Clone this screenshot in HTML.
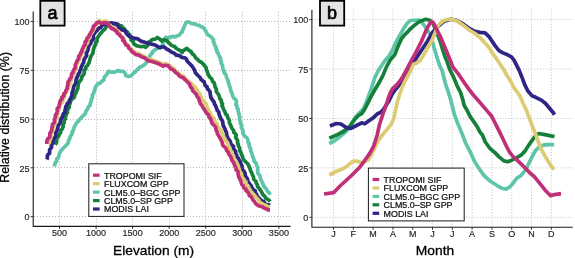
<!DOCTYPE html>
<html><head><meta charset="utf-8"><style>
html,body{margin:0;padding:0;background:#fff;}
svg{display:block;will-change:transform;}
text{font-family:"Liberation Sans", sans-serif;stroke-linejoin:round;}
.g{stroke:#b4b4b4;stroke-width:1;stroke-dasharray:1 2;fill:none;}
.g2{stroke:#c0c0c0;stroke-width:1;stroke-dasharray:0.95 1.9;fill:none;}
.c{fill:none;stroke-width:3.7;stroke-linejoin:round;stroke-linecap:butt;}
.ax{fill:none;stroke:#1a1a1a;stroke-width:1.1;}
.tk{stroke:#333;stroke-width:1;}
.xt{font-size:9.8px;fill:#262626;stroke:#262626;stroke-width:0.18px;text-anchor:middle;}
.yt{font-size:9.8px;fill:#262626;stroke:#262626;stroke-width:0.18px;text-anchor:end;}
.lg{fill:#fff;stroke:#1a1a1a;stroke-width:1;}
.lt{font-size:9.2px;fill:#111;stroke:#111;stroke-width:0.25px;}
.tb{fill:#e4e4e4;stroke:#000;stroke-width:1.8;}
.tg{font-size:18px;text-anchor:middle;fill:#000;stroke:#000;stroke-width:0.7px;}
.ti{font-size:13.4px;fill:#000;stroke:#000;stroke-width:0.3px;}
</style></head><body>
<svg width="575" height="258" viewBox="0 0 575 258">
<line x1="59.50" y1="11.60" x2="59.50" y2="226.40" class="g"/>
<line x1="96.50" y1="11.60" x2="96.50" y2="226.40" class="g"/>
<line x1="132.50" y1="11.60" x2="132.50" y2="226.40" class="g"/>
<line x1="169.50" y1="11.60" x2="169.50" y2="226.40" class="g"/>
<line x1="205.50" y1="11.60" x2="205.50" y2="226.40" class="g"/>
<line x1="242.50" y1="11.60" x2="242.50" y2="226.40" class="g"/>
<line x1="278.50" y1="11.60" x2="278.50" y2="226.40" class="g"/>
<line x1="34.00" y1="21.50" x2="290.60" y2="21.50" class="g"/>
<line x1="34.00" y1="70.50" x2="290.60" y2="70.50" class="g"/>
<line x1="34.00" y1="119.50" x2="290.60" y2="119.50" class="g"/>
<line x1="34.00" y1="167.50" x2="290.60" y2="167.50" class="g"/>
<line x1="34.00" y1="216.50" x2="290.60" y2="216.50" class="g"/>
<polyline points="54.4,166.4 54.7,164.4 55.4,162.6 56.7,161.0 56.7,158.9 58.4,157.5 59.0,155.6 59.4,153.6 60.2,151.8 61.4,150.2 62.6,149.1 63.7,147.8 64.8,146.6 66.0,145.5 67.3,144.1 68.3,142.4 68.6,140.3 69.9,138.5 70.1,136.7 71.1,135.2 72.2,133.9 72.1,131.7 73.5,130.0 73.8,128.2 74.6,126.6 75.3,124.9 76.4,123.5 77.2,122.0 78.7,121.1 79.3,119.5 80.9,118.0 82.4,116.4 84.0,114.9 85.5,113.3 85.9,111.5 86.8,110.1 87.8,108.6 88.4,106.8 90.1,105.4 90.2,103.4 91.2,101.5 91.2,99.3 92.5,97.5 92.3,95.3 93.5,93.5 94.1,91.5 95.0,89.3 95.6,87.0 96.7,85.4 97.8,83.7 99.7,83.6 100.9,82.1 102.5,81.0 104.0,79.8 104.1,77.9 104.9,76.4 106.3,75.2 107.4,73.2 108.6,71.3 110.1,72.0 111.7,72.1 114.8,72.1 116.3,71.3 117.9,70.5 120.2,71.3 123.3,71.3 124.6,72.4 125.5,73.8 125.7,75.5 128.6,76.5 131.5,75.5 132.8,73.8 134.5,72.5 135.8,71.5 136.7,70.1 137.9,69.0 139.6,67.5 141.5,66.5 143.3,65.5 144.9,64.2 146.5,62.6 147.3,60.5 148.1,58.7 149.5,57.2 150.2,54.9 152.0,53.5 152.7,51.7 154.2,50.3 156.5,49.0 158.1,48.0 160.0,48.0 160.7,46.2 162.5,45.5 163.0,43.8 163.3,42.1 164.2,40.5 164.8,38.7 165.8,37.2 167.4,38.3 168.8,37.1 170.5,37.5 171.9,36.4 173.6,36.7 175.3,36.9 176.7,35.9 178.4,35.4 179.8,34.4 180.7,33.0 182.1,32.1 182.6,30.0 183.7,28.2 184.3,26.2 185.2,24.3 186.8,22.0 189.1,22.0 191.4,23.5 193.1,23.9 194.8,23.9 196.2,24.7 199.3,25.4 200.7,26.6 202.4,27.0 203.7,28.0 204.7,29.3 205.6,30.8 206.3,32.4 207.8,34.7 210.2,36.3 211.6,37.2 212.5,38.6 213.7,40.0 213.3,41.7 214.3,43.5 214.8,45.6 216.0,46.8 215.8,48.8 217.1,50.0 216.9,51.9 218.3,53.3 218.7,55.0 219.5,56.6 220.5,58.1 220.5,60.0 221.4,61.6 221.2,63.6 222.5,65.1 222.6,67.0 223.0,69.0 224.0,70.8 224.1,72.8 225.9,74.3 226.4,76.7 227.2,78.6 228.0,80.6 228.3,82.5 229.1,84.2 229.5,86.0 230.3,87.9 230.5,90.0 231.1,91.6 232.1,93.0 232.2,94.7 232.9,96.3 233.6,97.9 235.0,99.0 236.2,100.5 236.6,102.3 235.8,104.5 237.0,106.0 237.0,107.7 238.2,109.1 238.1,110.9 238.7,112.4 238.9,114.1 239.2,115.7 240.0,117.2 239.3,119.0 239.8,120.5 240.6,122.0 240.4,123.8 241.8,125.3 241.3,127.3 242.1,128.9 243.2,131.1 242.9,133.5 244.0,135.1 245.2,136.6 246.6,137.6 247.6,139.0 248.0,140.6 247.9,142.3 249.1,143.6 249.1,145.5 249.7,147.3 250.7,149.0 250.7,151.0 251.6,152.7 252.2,154.5 252.7,156.9 253.8,159.0 254.2,161.4 256.0,163.1 256.4,164.6 256.9,166.2 257.6,167.6 257.6,169.3 257.7,171.2 257.8,173.1 259.1,174.7 260.1,176.3 260.4,178.2 261.0,180.0 262.1,181.9 263.0,184.0 263.9,186.2 265.5,188.0 266.7,189.6 267.5,191.5 269.3,192.7 270.0,194.8" stroke="#5ec4aa" class="c"/>
<polyline points="55.2,144.7 56.3,143.1 56.7,141.2 56.7,139.3 57.5,137.5 58.8,135.9 59.4,134.0 60.7,132.5 60.8,130.4 62.2,129.0 63.1,126.8 63.1,124.5 64.2,122.8 64.0,120.6 65.3,119.0 65.3,117.3 65.9,115.8 66.2,114.1 67.4,112.8 67.3,110.7 68.1,109.0 69.3,107.4 69.3,105.5 69.8,103.7 70.5,102.0 71.1,99.8 73.0,98.5 74.3,97.3 74.7,95.6 75.2,94.0 76.3,92.1 77.1,90.0 77.9,88.4 78.0,86.7 78.2,85.0 78.6,83.2 79.3,81.5 80.8,80.2 81.7,78.4 81.7,76.6 82.9,75.4 84.0,74.0 84.3,72.4 84.1,70.4 85.8,69.0 85.7,67.0 87.3,65.8 88.2,64.0 89.2,62.4 89.6,60.6 90.0,58.7 90.7,57.0 91.7,55.0 92.8,53.4 93.1,51.5 93.5,49.6 94.0,47.8 94.5,46.0 95.7,44.7 95.5,42.8 97.0,41.6 97.1,39.8 97.2,38.0 98.3,36.7 99.1,35.2 101.2,32.8 103.1,30.5 105.1,29.0 106.2,26.6 108.4,25.1 110.1,24.6 111.4,23.5 113.4,23.5 115.2,24.3 118.3,24.3 119.6,25.5 121.4,25.9 122.6,27.3 124.0,28.5 125.0,29.8 125.8,31.1 127.4,31.9 128.0,33.5 129.7,34.8 129.9,36.9 131.0,38.5 131.1,40.3 133.1,41.0 133.3,42.7 134.1,44.1 135.7,45.2 137.5,46.0 139.3,46.3 141.1,46.7 143.5,46.3 145.8,47.3 147.3,45.8 148.5,44.0 148.8,42.1 150.5,41.0 152.6,39.4 155.7,39.0 157.3,37.5 159.7,39.0 162.0,41.0 163.4,39.9 165.1,40.0 167.4,41.0 168.3,42.5 169.7,43.5 171.0,45.0 172.8,46.0 174.7,46.5 175.9,48.0 177.4,49.0 179.0,50.0 180.9,50.9 182.1,52.5 182.7,50.7 184.5,50.0 186.8,48.3 189.1,50.5 191.1,51.7 192.2,53.8 193.6,54.8 194.7,56.0 195.8,58.1 197.8,59.5 199.0,61.1 200.9,62.0 202.6,63.4 204.0,65.1 205.3,66.4 206.2,67.9 206.3,69.7 207.4,71.5 207.8,73.6 208.8,75.7 210.2,77.5 211.9,79.1 212.5,81.4 214.2,82.9 214.8,85.2 215.2,87.3 216.4,89.1 216.3,91.5 217.7,93.5 218.8,95.0 219.4,96.7 219.8,98.5 221.3,100.2 221.4,102.4 222.6,103.7 221.8,105.7 222.9,107.1 223.4,109.0 224.3,110.7 225.2,112.5 225.7,114.2 227.2,115.3 227.6,117.1 228.6,118.9 229.4,120.8 229.4,123.0 230.6,124.9 231.3,127.0 232.3,128.8 233.6,130.4 233.7,132.3 235.2,133.5 236.4,135.2 235.6,137.3 236.7,139.0 237.7,140.7 237.5,142.7 238.3,144.4 238.5,146.3 239.6,147.9 239.8,149.8 240.0,151.5 241.2,152.8 241.4,154.5 242.5,156.3 242.9,158.3 243.9,159.9 245.2,161.4 247.5,163.5 249.1,166.2 249.6,167.8 250.2,169.3 250.6,170.9 251.6,172.3 252.0,174.0 252.9,175.5 253.5,177.2 253.7,179.1 255.0,180.5 256.2,181.7 256.3,183.6 257.4,184.8 257.5,186.6 258.9,187.8 259.6,189.3 261.0,190.9 262.0,192.8 263.0,194.9 264.8,196.3 265.8,198.4 267.9,199.4 269.2,200.4 270.2,201.7" stroke="#16803a" class="c"/>
<polyline points="46.8,159.5 47.4,158.0 47.3,156.2 47.8,154.6 49.5,153.5 49.7,151.8 49.5,150.0 50.5,148.6 51.7,147.3 51.2,145.4 52.4,144.0 53.3,142.6 52.6,140.7 53.7,139.3 54.5,137.8 55.4,136.4 56.1,134.9 55.5,132.9 56.6,131.6 57.2,130.0 57.7,128.5 58.0,126.8 58.3,125.2 59.7,124.0 60.3,122.2 60.5,120.3 61.3,118.6 62.3,117.0 62.8,115.3 63.4,113.7 65.0,112.4 64.9,110.5 65.6,108.7 65.7,106.6 67.0,105.0 67.3,103.3 69.1,102.3 69.2,100.5 70.2,99.1 71.0,97.6 71.7,96.0 71.9,93.9 72.3,91.9 73.1,90.0 73.4,88.3 73.7,86.6 74.5,85.0 75.6,83.5 75.9,81.8 76.0,80.0 76.5,78.4 77.3,77.0 78.0,75.5 78.3,73.8 79.7,72.6 79.8,70.7 80.7,69.3 81.1,67.4 82.0,65.7 82.6,63.8 83.8,62.3 83.8,60.3 84.7,58.6 85.7,57.0 86.7,55.3 86.3,53.1 87.4,51.4 88.1,49.6 88.4,47.8 88.9,46.0 89.8,44.5 91.0,43.0 90.8,41.1 92.8,40.0 93.4,38.4 93.3,36.5 93.3,34.6 94.7,33.2 95.2,31.5 97.0,30.7 98.0,29.0 99.3,28.0 100.9,27.4 101.9,25.6 103.6,24.3 105.8,24.3 107.5,22.8 109.5,23.5 111.4,22.8 113.6,23.6 116.0,23.5 117.3,24.5 118.0,26.0 118.7,27.5 120.0,28.5 121.3,29.8 123.1,30.1 125.2,31.1 126.2,33.2 127.6,34.9 129.3,36.3 131.0,36.8 132.4,37.8 134.0,38.0 135.5,38.6 137.2,38.5 138.6,39.4 140.1,40.6 141.7,41.7 143.4,41.7 144.8,42.5 146.4,42.7 147.9,43.3 151.0,44.0 152.5,44.4 154.1,44.8 155.8,45.2 157.2,46.4 159.1,47.5 161.2,47.3 163.1,46.7 165.0,47.5 166.5,49.0 168.3,49.9 170.0,51.0 171.6,52.1 173.3,52.9 175.0,53.7 176.3,55.2 178.3,55.3 180.0,56.0 181.5,57.2 183.2,57.7 185.0,57.9 186.4,59.0 186.9,60.7 188.0,62.0 189.5,63.5 191.0,65.0 192.2,66.5 193.3,68.0 194.7,70.5 195.4,72.7 197.0,74.4 198.5,76.0 200.1,77.5 201.0,79.3 202.4,80.6 204.1,81.7 204.7,83.7 205.3,85.7 207.1,86.8 207.3,88.6 208.6,89.9 210.0,91.6 210.2,93.8 210.5,95.7 210.9,97.7 212.1,99.3 213.0,100.8 214.2,102.2 214.4,104.0 215.5,105.4 216.0,107.0 216.7,108.6 217.2,110.5 218.8,111.9 219.0,114.0 219.7,115.9 220.4,117.8 221.4,119.5 222.5,121.0 222.8,122.7 223.0,124.5 223.4,126.2 224.4,127.6 225.0,129.2 225.6,130.9 226.5,132.5 226.6,134.3 227.1,136.2 227.9,138.0 229.0,139.7 230.3,141.4 230.7,143.6 232.1,145.2 233.6,146.4 233.2,148.5 234.4,149.8 235.7,151.4 235.6,153.5 236.7,155.2 237.1,156.9 238.4,158.3 239.0,159.9 240.4,161.9 241.0,164.2 242.1,166.0 241.7,168.3 243.0,170.0 244.2,171.6 245.1,173.4 245.2,175.5 246.1,177.1 247.3,178.6 247.7,180.5 248.5,182.2 249.5,183.8 250.8,185.2 251.6,186.7 252.2,188.4 253.5,189.7 255.2,190.8 255.6,192.8 256.5,194.4 257.3,196.3 258.8,197.8 260.2,199.4 261.7,200.9 263.7,201.6 264.8,203.3 266.2,204.5 267.9,204.8 270.2,205.3" stroke="#2e2585" class="c"/>
<polyline points="48.2,144.0 49.5,142.4 49.6,140.5 50.7,138.8 50.5,136.8 51.2,135.0 51.0,133.0 52.4,131.5 52.5,129.5 53.9,128.0 53.8,126.0 54.5,124.5 55.3,123.1 54.8,121.2 55.3,119.6 56.4,118.3 57.3,116.9 56.9,115.1 58.3,113.8 57.5,111.8 58.7,110.5 59.4,108.8 59.2,106.8 59.8,105.0 61.1,103.5 62.5,102.3 63.0,100.7 63.4,99.0 64.4,97.5 64.2,95.5 65.2,94.0 66.5,92.1 67.5,90.0 68.6,88.5 68.7,86.7 69.2,85.0 70.4,83.5 71.0,81.9 70.9,80.0 71.7,78.5 71.8,76.7 73.1,75.5 74.2,74.2 74.3,72.4 74.6,70.8 76.2,69.6 76.4,67.9 76.6,66.2 76.5,64.4 77.6,63.0 78.6,61.6 79.0,60.0 79.9,58.3 80.9,56.7 81.3,54.8 82.0,53.0 82.8,51.3 83.1,49.3 84.7,47.9 85.1,46.0 86.5,44.4 87.6,42.7 87.9,40.6 88.8,38.6 90.1,36.7 90.2,34.8 91.4,33.5 92.4,32.1 93.3,30.1 94.5,28.2 95.0,26.4 96.3,25.1 98.3,22.8 99.0,20.4 101.3,21.9 103.6,21.2 106.7,21.2 107.5,23.0 108.7,24.3 110.3,25.4 111.4,27.2 113.4,27.8 115.0,28.9 116.0,30.4 118.0,31.1 119.3,32.3 120.0,34.1 120.5,35.9 122.0,37.0 123.6,37.9 124.3,39.6 124.5,41.8 126.0,43.4 127.8,44.9 128.9,46.9 130.6,48.2 131.8,50.1 134.5,51.7 135.7,53.1 137.6,53.2 140.5,54.4 141.7,55.6 143.4,55.9 144.8,56.9 146.3,57.7 147.6,58.9 149.3,59.4 152.0,59.9 155.0,60.9 158.0,61.9 160.7,63.1 163.1,64.7 164.5,63.9 166.2,63.9 167.7,64.9 169.3,65.5 170.9,66.6 172.4,67.8 174.3,69.0 175.5,70.9 177.1,72.0 178.6,73.2 179.9,74.7 181.7,75.5 183.6,76.2 184.8,77.9 186.1,79.7 187.9,81.0 190.0,82.4 192.3,84.5 193.4,85.7 194.7,86.8 195.9,88.5 197.3,90.0 198.0,92.0 199.5,93.5 200.4,95.4 201.2,97.3 201.9,99.4 203.5,100.9 204.7,102.6 206.2,104.1 206.6,106.3 207.7,108.1 208.1,110.2 209.7,111.7 210.6,113.6 211.1,115.7 212.8,117.1 214.3,118.7 214.3,121.1 215.9,122.6 217.3,124.2 217.7,126.3 219.0,128.0 220.0,129.3 221.2,130.4 221.7,132.4 222.6,134.1 223.5,135.9 223.9,137.9 225.4,139.4 225.9,141.3 227.6,142.7 228.2,144.7 229.0,146.7 229.9,148.2 230.0,150.1 231.3,151.4 232.0,153.0 232.2,154.8 233.6,156.0 233.7,158.0 234.4,159.7 235.9,161.0 236.2,162.9 237.5,164.3 238.3,166.0 238.6,167.8 239.4,169.4 239.2,171.3 240.9,172.7 241.3,174.4 241.3,176.3 242.1,178.0 243.8,179.1 244.4,180.9 246.0,181.9 245.7,184.2 247.3,185.2 248.4,186.7 249.2,188.5 250.3,190.0 250.8,191.7 252.1,192.8 253.2,194.0 254.7,195.6 256.0,197.5 257.6,198.9 259.0,200.5 260.0,202.5 262.0,203.5 264.0,204.8 265.8,205.1 267.1,206.4 270.0,207.1" stroke="#dccb72" class="c"/>
<polyline points="46.8,144.0 46.7,142.0 47.2,140.1 48.1,138.4 49.8,137.0 49.8,135.0 49.9,133.1 51.2,131.5 51.8,129.7 51.9,127.8 52.4,126.0 52.4,124.3 53.9,123.1 54.7,121.6 54.3,119.8 55.0,118.3 55.5,116.8 55.3,115.0 56.6,113.7 57.0,112.1 57.3,110.5 57.2,108.5 58.9,107.1 59.2,105.3 59.7,103.5 59.9,101.7 60.6,100.2 62.0,99.0 61.9,97.1 63.9,95.9 63.8,94.0 65.4,92.2 66.1,90.0 67.2,88.5 67.2,86.7 67.8,85.0 67.8,83.2 68.3,81.4 69.5,80.0 70.1,78.5 71.3,77.1 71.4,75.4 71.7,73.7 72.9,72.4 73.4,70.8 74.1,69.3 75.3,68.0 75.2,66.2 75.3,64.5 76.3,63.1 76.7,61.4 77.6,60.0 78.8,58.4 78.6,56.3 80.2,54.9 80.6,53.0 81.8,51.5 82.1,49.5 83.0,47.8 83.7,46.0 85.3,44.5 85.0,42.1 86.5,40.6 86.9,38.3 88.7,36.7 89.2,35.1 90.3,33.7 91.0,32.1 92.1,30.2 93.1,28.2 93.4,26.3 94.9,25.1 96.9,22.8 99.0,22.0 101.3,23.5 103.6,22.8 106.7,22.8 108.4,23.7 108.6,26.0 110.3,27.0 111.6,28.6 113.7,29.0 115.0,30.5 116.7,31.4 117.3,33.3 119.0,34.2 120.0,35.7 121.3,36.9 122.8,38.0 122.7,40.3 124.3,41.2 125.0,43.2 126.0,45.0 128.1,46.2 128.9,48.5 130.8,49.6 131.8,51.7 134.5,53.3 135.8,54.6 137.6,54.8 140.5,56.0 141.8,57.0 143.4,57.5 145.0,58.1 146.3,59.3 147.7,60.3 149.3,61.0 152.0,61.5 155.0,62.5 158.0,63.5 160.7,64.7 163.1,66.3 164.5,65.4 166.2,65.5 168.1,65.6 169.3,67.1 170.5,68.7 172.4,69.4 174.2,70.7 175.5,72.5 177.2,73.5 178.6,74.8 179.8,76.5 181.7,77.1 183.5,78.0 184.8,79.5 186.5,80.9 187.9,82.6 189.6,83.9 190.0,86.0 191.2,87.5 192.3,89.1 192.7,90.8 194.0,91.9 195.0,93.1 196.6,94.8 197.3,97.0 198.8,98.2 199.1,100.0 199.7,101.6 200.4,103.8 202.0,105.5 203.0,107.5 204.3,109.4 205.5,111.3 206.6,113.3 208.5,114.8 209.0,117.1 210.7,118.7 211.3,121.0 212.0,123.2 213.6,124.9 215.3,126.5 215.9,128.8 216.2,130.6 217.3,132.0 217.5,134.0 218.7,135.7 219.7,137.4 220.5,139.0 221.3,140.5 222.0,142.1 222.5,143.8 222.9,145.5 224.3,146.7 226.1,148.3 226.6,150.6 228.3,152.2 229.0,154.5 230.5,156.2 231.3,158.3 232.0,160.6 233.6,162.5 234.3,164.4 235.1,166.2 236.0,168.0 236.2,170.0 238.0,171.4 238.0,173.5 238.4,175.3 238.8,177.0 239.7,178.6 240.5,180.3 241.0,182.0 241.7,184.3 243.5,186.0 243.7,187.9 245.8,188.7 246.0,190.5 247.8,192.0 249.0,194.0 249.4,195.8 251.3,196.4 252.0,198.0 252.9,200.0 254.5,201.5 255.5,203.4 257.1,204.8 258.6,205.7 260.2,206.4 261.9,206.5 263.3,207.6 264.8,208.4 266.4,208.7 268.0,209.9 270.0,209.8" stroke="#bf3079" class="c"/>
<path d="M33.2 11.6 V226.4 H290.6" class="ax"/>
<line x1="59.5" y1="226.4" x2="59.5" y2="228.9" class="tk"/>
<line x1="96.1" y1="226.4" x2="96.1" y2="228.9" class="tk"/>
<line x1="132.6" y1="226.4" x2="132.6" y2="228.9" class="tk"/>
<line x1="169.2" y1="226.4" x2="169.2" y2="228.9" class="tk"/>
<line x1="205.8" y1="226.4" x2="205.8" y2="228.9" class="tk"/>
<line x1="242.3" y1="226.4" x2="242.3" y2="228.9" class="tk"/>
<line x1="278.9" y1="226.4" x2="278.9" y2="228.9" class="tk"/>
<line x1="30.7" y1="21.5" x2="33.2" y2="21.5" class="tk"/>
<line x1="30.7" y1="70.3" x2="33.2" y2="70.3" class="tk"/>
<line x1="30.7" y1="119.0" x2="33.2" y2="119.0" class="tk"/>
<line x1="30.7" y1="167.8" x2="33.2" y2="167.8" class="tk"/>
<line x1="30.7" y1="216.6" x2="33.2" y2="216.6" class="tk"/>
<text transform="translate(59.50,236.40) scale(0.92,1)" class="xt">500</text>
<text transform="translate(96.06,236.40) scale(0.92,1)" class="xt">1000</text>
<text transform="translate(132.63,236.40) scale(0.92,1)" class="xt">1500</text>
<text transform="translate(169.19,236.40) scale(0.92,1)" class="xt">2000</text>
<text transform="translate(205.76,236.40) scale(0.92,1)" class="xt">2500</text>
<text transform="translate(242.32,236.40) scale(0.92,1)" class="xt">3000</text>
<text transform="translate(278.89,236.40) scale(0.92,1)" class="xt">3500</text>
<text transform="translate(29.60,25.20) scale(0.92,1)" class="yt">100</text>
<text transform="translate(29.60,73.97) scale(0.92,1)" class="yt">75</text>
<text transform="translate(29.60,122.75) scale(0.92,1)" class="yt">50</text>
<text transform="translate(29.60,171.52) scale(0.92,1)" class="yt">25</text>
<text transform="translate(29.60,220.30) scale(0.92,1)" class="yt">0</text>
<rect x="88.8" y="163.8" width="95.2" height="52.6" class="lg"/>
<rect x="93.0" y="173.6" width="6.6" height="3.2" fill="#bf3079"/>
<text transform="translate(104.00,178.60) scale(0.967,1)" class="lt">TROPOMI SIF</text>
<rect x="93.0" y="182.1" width="6.6" height="3.2" fill="#dccb72"/>
<text transform="translate(104.00,187.05) scale(0.967,1)" class="lt">FLUXCOM GPP</text>
<rect x="93.0" y="190.5" width="6.6" height="3.2" fill="#5ec4aa"/>
<text transform="translate(104.00,195.50) scale(0.967,1)" class="lt">CLM5.0–BGC GPP</text>
<rect x="93.0" y="199.0" width="6.6" height="3.2" fill="#16803a"/>
<text transform="translate(104.00,203.95) scale(0.967,1)" class="lt">CLM5.0–SP GPP</text>
<rect x="93.0" y="207.4" width="6.6" height="3.2" fill="#2e2585"/>
<text transform="translate(104.00,212.40) scale(0.967,1)" class="lt">MODIS LAI</text>
<rect x="40.3" y="0.8" width="24.3" height="24.8" class="tb"/>
<text x="52.4" y="18.7" class="tg">a</text>
<line x1="333.50" y1="9.70" x2="333.50" y2="227.20" class="g2"/>
<line x1="353.30" y1="9.70" x2="353.30" y2="227.20" class="g2"/>
<line x1="373.10" y1="9.70" x2="373.10" y2="227.20" class="g2"/>
<line x1="392.90" y1="9.70" x2="392.90" y2="227.20" class="g2"/>
<line x1="412.70" y1="9.70" x2="412.70" y2="227.20" class="g2"/>
<line x1="432.50" y1="9.70" x2="432.50" y2="227.20" class="g2"/>
<line x1="452.30" y1="9.70" x2="452.30" y2="227.20" class="g2"/>
<line x1="472.10" y1="9.70" x2="472.10" y2="227.20" class="g2"/>
<line x1="491.90" y1="9.70" x2="491.90" y2="227.20" class="g2"/>
<line x1="511.70" y1="9.70" x2="511.70" y2="227.20" class="g2"/>
<line x1="531.50" y1="9.70" x2="531.50" y2="227.20" class="g2"/>
<line x1="551.30" y1="9.70" x2="551.30" y2="227.20" class="g2"/>
<line x1="312.00" y1="19.60" x2="572.70" y2="19.60" class="g2"/>
<line x1="312.00" y1="69.03" x2="572.70" y2="69.03" class="g2"/>
<line x1="312.00" y1="118.45" x2="572.70" y2="118.45" class="g2"/>
<line x1="312.00" y1="167.88" x2="572.70" y2="167.88" class="g2"/>
<line x1="312.00" y1="217.30" x2="572.70" y2="217.30" class="g2"/>
<polyline points="329.3,143.5 334.9,140.5 340.0,136.5 345.0,132.5 350.0,127.0 352.3,122.0 355.5,117.0 359.7,112.5 363.4,108.7 366.0,103.0 370.9,90.0 374.7,77.9 378.6,70.2 384.7,61.0 389.3,55.6 392.4,50.2 395.5,43.2 398.6,37.5 401.7,32.0 404.0,28.0 407.0,23.5 410.2,20.5 419.3,20.0 423.5,24.5 427.0,29.4 430.9,35.6 434.1,47.8 436.4,55.5 438.8,63.3 440.5,67.5 442.3,71.0 445.3,83.3 448.5,92.6 450.8,100.0 454.3,114.3 457.8,123.6 461.7,132.9 465.6,143.0 470.3,152.2 475.0,162.3 479.7,169.5 484.3,175.8 490.5,181.3 496.7,185.3 502.1,188.3 506.0,189.2 509.9,186.9 513.8,182.2 517.0,178.0 521.0,175.7 525.7,169.5 528.8,163.3 532.4,156.0 535.5,150.6 539.4,146.7 543.3,145.2 547.9,144.7 554.1,144.7" stroke="#5ec4aa" class="c"/>
<polyline points="329.3,138.3 337.4,134.6 343.3,131.5 349.3,126.8 352.5,122.5 355.5,118.3 358.5,115.5 361.7,113.6 364.8,109.0 367.9,102.8 371.0,96.6 374.7,90.0 378.6,83.5 382.5,76.4 386.4,67.1 390.2,60.0 394.7,54.8 397.1,48.6 399.4,43.2 401.7,38.5 404.8,34.7 407.9,31.6 410.2,29.0 414.7,25.1 419.3,21.6 425.8,19.3 429.8,20.3 433.3,24.0 436.7,32.1 440.2,41.4 442.6,49.5 444.9,56.5 446.6,60.5 449.7,69.3 453.6,77.1 456.7,84.8 460.6,92.6 462.9,100.0 464.0,105.0 467.1,110.4 470.2,116.6 474.1,122.1 477.2,126.7 480.0,132.1 482.4,135.0 485.3,142.0 490.0,148.5 494.7,152.4 499.3,157.1 504.0,160.9 507.8,161.7 511.7,160.2 516.4,157.8 521.0,155.2 524.7,151.4 528.5,145.6 532.4,139.9 535.5,135.9 538.6,133.5 544.8,134.6 551.0,135.9 554.5,136.5" stroke="#16803a" class="c"/>
<polyline points="329.9,126.0 336.3,123.5 340.9,124.0 346.7,127.8 350.9,128.3 355.5,126.0 361.7,122.9 364.8,123.7 367.9,121.4 372.6,118.3 377.4,113.8 380.5,112.5 383.4,109.5 386.3,105.0 389.2,100.5 392.0,94.5 395.0,90.0 398.0,86.5 401.0,82.5 404.0,78.5 407.0,73.8 410.0,68.5 413.0,63.5 417.0,57.0 421.0,51.0 427.6,41.0 432.1,33.0 437.9,26.5 443.7,21.5 450.7,19.2 456.5,20.3 463.5,24.2 470.0,29.0 474.0,31.0 479.7,32.4 485.1,32.9 489.0,36.6 492.1,41.3 495.2,45.9 499.0,50.6 502.9,52.9 507.6,54.8 511.4,56.8 513.8,59.9 516.3,64.7 519.4,70.9 522.5,78.6 524.8,84.8 527.9,91.0 531.8,95.6 535.7,97.3 541.7,100.4 545.6,103.5 549.5,108.2 553.3,112.8 554.5,114.8" stroke="#2e2585" class="c"/>
<polyline points="329.3,175.0 335.0,172.0 339.0,170.3 342.0,169.3 347.0,166.2 351.5,162.3 354.0,161.0 357.5,161.2 362.2,163.0 368.4,159.8 373.3,151.1 377.6,141.7 382.4,134.9 387.3,129.1 391.2,124.2 394.1,117.4 395.2,111.5 397.5,101.5 399.8,93.8 402.1,87.5 404.5,82.0 407.6,76.3 410.7,70.5 413.2,64.3 416.3,63.3 420.2,60.2 423.3,55.5 426.4,50.1 429.5,44.7 432.6,39.0 434.4,34.5 437.4,27.0 440.0,23.5 443.3,20.8 447.2,19.4 453.0,19.4 457.7,21.2 460.0,23.0 463.5,25.3 467.0,28.2 470.0,30.5 475.0,33.5 479.7,37.4 484.3,42.1 489.0,47.5 492.8,53.7 496.7,59.1 499.8,63.8 503.1,68.5 507.0,75.5 510.9,81.7 514.0,87.9 517.1,91.8 520.2,96.6 523.1,103.5 526.2,109.7 528.5,115.9 530.9,122.1 533.2,128.3 535.5,133.8 537.8,140.5 540.9,148.3 544.0,154.5 547.9,160.7 550.5,165.0 554.0,169.5" stroke="#dccb72" class="c"/>
<polyline points="324.0,194.0 333.6,192.7 340.0,186.0 351.0,176.0 360.0,167.0 369.6,153.6 373.5,146.5 377.2,135.0 379.5,124.5 383.4,112.5 384.3,110.5 388.2,98.5 390.5,92.5 392.8,88.5 396.7,85.0 399.8,81.2 402.9,76.5 406.2,70.5 411.6,60.2 415.5,53.2 418.6,47.0 421.7,40.8 426.3,30.0 429.5,24.0 431.6,21.5 433.3,22.5 436.7,29.5 439.8,35.3 441.4,39.0 446.0,50.0 450.7,61.5 452.8,67.0 457.5,72.8 462.1,79.5 466.0,85.2 469.9,90.6 473.8,95.5 477.8,100.0 482.4,105.4 487.1,110.9 491.7,116.3 494.8,122.5 497.9,128.7 501.0,134.9 503.5,140.0 506.3,146.0 509.4,151.8 512.5,156.0 517.1,160.2 521.8,164.6 526.4,169.2 530.0,173.0 534.3,176.6 539.8,183.4 545.2,190.2 550.6,195.6 556.0,194.3 561.0,193.7" stroke="#bf3079" class="c"/>
<path d="M311.9 9.7 V227.2 H572.7" class="ax"/>
<line x1="333.5" y1="227.2" x2="333.5" y2="229.7" class="tk"/>
<line x1="353.3" y1="227.2" x2="353.3" y2="229.7" class="tk"/>
<line x1="373.1" y1="227.2" x2="373.1" y2="229.7" class="tk"/>
<line x1="392.9" y1="227.2" x2="392.9" y2="229.7" class="tk"/>
<line x1="412.7" y1="227.2" x2="412.7" y2="229.7" class="tk"/>
<line x1="432.5" y1="227.2" x2="432.5" y2="229.7" class="tk"/>
<line x1="452.3" y1="227.2" x2="452.3" y2="229.7" class="tk"/>
<line x1="472.1" y1="227.2" x2="472.1" y2="229.7" class="tk"/>
<line x1="491.9" y1="227.2" x2="491.9" y2="229.7" class="tk"/>
<line x1="511.7" y1="227.2" x2="511.7" y2="229.7" class="tk"/>
<line x1="531.5" y1="227.2" x2="531.5" y2="229.7" class="tk"/>
<line x1="551.3" y1="227.2" x2="551.3" y2="229.7" class="tk"/>
<line x1="309.4" y1="19.6" x2="311.9" y2="19.6" class="tk"/>
<line x1="309.4" y1="69.0" x2="311.9" y2="69.0" class="tk"/>
<line x1="309.4" y1="118.5" x2="311.9" y2="118.5" class="tk"/>
<line x1="309.4" y1="167.9" x2="311.9" y2="167.9" class="tk"/>
<line x1="309.4" y1="217.3" x2="311.9" y2="217.3" class="tk"/>
<text transform="translate(333.50,237.20) scale(0.92,1)" class="xt">J</text>
<text transform="translate(353.30,237.20) scale(0.92,1)" class="xt">F</text>
<text transform="translate(373.10,237.20) scale(0.92,1)" class="xt">M</text>
<text transform="translate(392.90,237.20) scale(0.92,1)" class="xt">A</text>
<text transform="translate(412.70,237.20) scale(0.92,1)" class="xt">M</text>
<text transform="translate(432.50,237.20) scale(0.92,1)" class="xt">J</text>
<text transform="translate(452.30,237.20) scale(0.92,1)" class="xt">J</text>
<text transform="translate(472.10,237.20) scale(0.92,1)" class="xt">A</text>
<text transform="translate(491.90,237.20) scale(0.92,1)" class="xt">S</text>
<text transform="translate(511.70,237.20) scale(0.92,1)" class="xt">O</text>
<text transform="translate(531.50,237.20) scale(0.92,1)" class="xt">N</text>
<text transform="translate(551.30,237.20) scale(0.92,1)" class="xt">D</text>
<text transform="translate(308.30,23.30) scale(0.92,1)" class="yt">100</text>
<text transform="translate(308.30,72.73) scale(0.92,1)" class="yt">75</text>
<text transform="translate(308.30,122.15) scale(0.92,1)" class="yt">50</text>
<text transform="translate(308.30,171.57) scale(0.92,1)" class="yt">25</text>
<text transform="translate(308.30,221.00) scale(0.92,1)" class="yt">0</text>
<rect x="368.4" y="168.1" width="95.8" height="52.8" class="lg"/>
<rect x="372.6" y="177.9" width="6.6" height="3.2" fill="#bf3079"/>
<text transform="translate(383.60,182.90) scale(0.967,1)" class="lt">TROPOMI SIF</text>
<rect x="372.6" y="186.3" width="6.6" height="3.2" fill="#dccb72"/>
<text transform="translate(383.60,191.35) scale(0.967,1)" class="lt">FLUXCOM GPP</text>
<rect x="372.6" y="194.8" width="6.6" height="3.2" fill="#5ec4aa"/>
<text transform="translate(383.60,199.80) scale(0.967,1)" class="lt">CLM5.0–BGC GPP</text>
<rect x="372.6" y="203.2" width="6.6" height="3.2" fill="#16803a"/>
<text transform="translate(383.60,208.25) scale(0.967,1)" class="lt">CLM5.0–SP GPP</text>
<rect x="372.6" y="211.7" width="6.6" height="3.2" fill="#2e2585"/>
<text transform="translate(383.60,216.70) scale(0.967,1)" class="lt">MODIS LAI</text>
<rect x="320.0" y="0.8" width="24.2" height="24.8" class="tb"/>
<text x="332.1" y="18.7" class="tg">b</text>
<text x="153.6" y="255.1" class="ti" text-anchor="middle" textLength="81" lengthAdjust="spacingAndGlyphs">Elevation (m)</text>
<text x="435" y="254.6" class="ti" text-anchor="middle" textLength="38.4" lengthAdjust="spacingAndGlyphs">Month</text>
<text transform="translate(9.2,117.4) rotate(-90)" class="ti" style="font-size:12.4px" text-anchor="middle">Relative distribution (%)</text>
</svg>
</body></html>
